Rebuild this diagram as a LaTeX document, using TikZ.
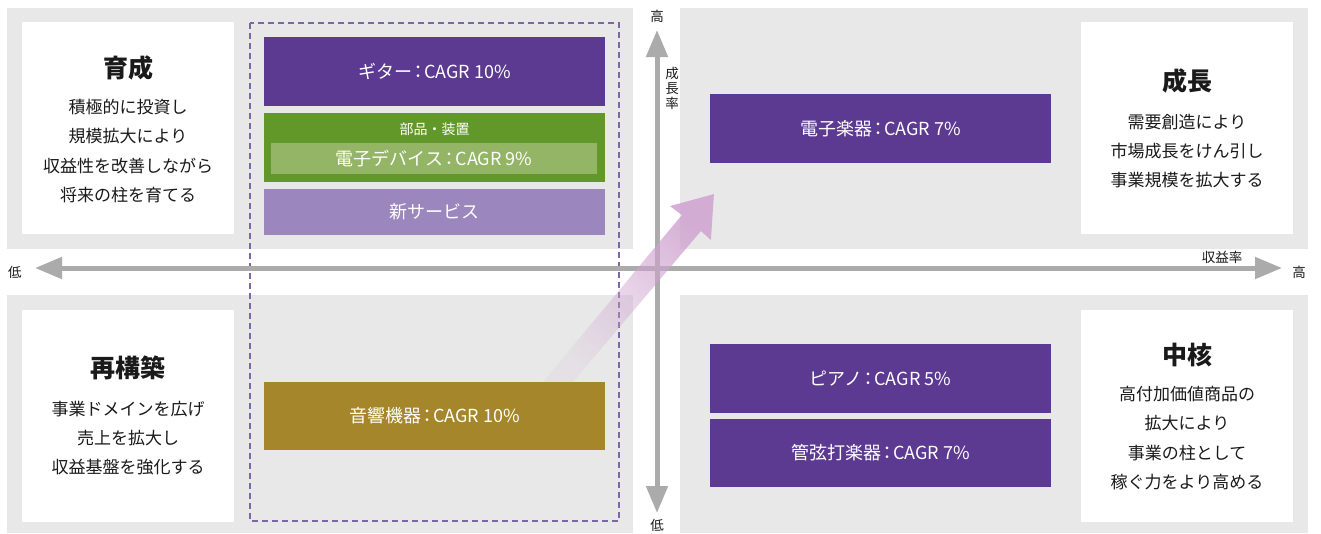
\documentclass[tikz,border=0pt]{standalone}
\usepackage{fontspec}
\setmainfont{Noto Sans CJK JP}
\usetikzlibrary{arrows.meta,fadings}
\definecolor{panelgray}{HTML}{E8E8E8}
\definecolor{purpleA}{HTML}{5C3A91}
\definecolor{greenA}{HTML}{62982A}
\definecolor{greenB}{HTML}{93B565}
\definecolor{purpleL}{HTML}{9B86BD}
\definecolor{goldA}{HTML}{A5862A}
\definecolor{dashpurple}{HTML}{7D66A8}
\definecolor{axisgray}{HTML}{ABABAB}
\definecolor{arrowpink}{HTML}{CFA2CF}
\definecolor{textblack}{HTML}{1A1A1A}
\tikzfading[name=arrowfade, top color=transparent!0, bottom color=transparent!88]
\newcommand{\cln}{\kern-0.16em：\kern-0.16em}
\begin{document}
\begin{tikzpicture}[x=1pt,y=-1pt,
  panel/.style={fill=panelgray,draw=none},
  whitebox/.style={fill=white,draw=none,minimum width=212pt,minimum height=212pt,inner sep=0pt,outer sep=0pt},
  catbox/.style={draw=none,text=white,minimum width=341pt,inner sep=0pt,outer sep=0pt,font=\fontsize{18}{20}\selectfont},
  title/.style={font=\fontsize{25}{28}\selectfont\bfseries,text=textblack},
  desc/.style={font=\fontsize{17}{29.3}\selectfont,text=textblack,align=center,inner sep=0pt},
  axis/.style={draw=axisgray,line width=5pt},
  axlabel/.style={font=\fontsize{13.5}{15}\selectfont,text=textblack,inner sep=0pt}
]
\useasboundingbox (0,0) rectangle (1321,533);
\fill[white] (0,0) rectangle (1321,533);
% quadrant panels
\fill[panel] (7,8) rectangle (633,249);
\fill[panel] (680,8) rectangle (1308,249);
\fill[panel] (7,295) rectangle (633,533);
\fill[panel] (680,295) rectangle (1308,533);
% white description boxes
\node[whitebox] (tlw) at (128,128) {};
\node[whitebox] (trw) at (1187,128) {};
\node[whitebox] (blw) at (128,416) {};
\node[whitebox] (brw) at (1187,416) {};
\node[title] (t1) at (128,68) {育成};
\node[desc] (d1) at (128,151) {積極的に投資し\\規模拡大により\\収益性を改善しながら\\将来の柱を育てる};
\node[title] (t2) at (1187,81) {成長};
\node[desc] (d2) at (1187,151) {需要創造により\\市場成長をけん引し\\事業規模を拡大する};
\node[title] (t3) at (128,368) {再構築};
\node[desc] (d3) at (128,438) {事業ドメインを広げ\\売上を拡大し\\収益基盤を強化する};
\node[title] (t4) at (1187,355) {中核};
\node[desc] (d4) at (1187,438) {高付加価値商品の\\拡大により\\事業の柱として\\稼ぐ力をより高める};
% dashed group
\draw[dashpurple,line width=1.3pt,dash pattern=on 6pt off 4pt] (250,23) rectangle (619,521);
% axes
\coordinate (hl) at (35,268);
\coordinate (hr) at (1282,268);
\coordinate (vt) at (657,30);
\coordinate (vb) at (657,513);
\draw[axis,{Triangle[length=27pt,width=21pt]}-{Triangle[length=27pt,width=21pt]}] (hl) -- (hr);
\draw[axis,{Triangle[length=27pt,width=21pt]}-{Triangle[length=27pt,width=21pt]}] (vt) -- (vb);
\node[axlabel] (lowx) at (15,272) {低};
\node[axlabel] (highx) at (1299,272) {高};
\node[axlabel] (xname) at (1222,257) {収益率};
\node[axlabel] (highy) at (657,16) {高};
\node[axlabel] (lowy) at (657,525) {低};
\node[axlabel,align=center,font=\fontsize{13.5}{15}\selectfont] (yname) at (672,88) {成\\長\\率};
% category boxes
\node[catbox,fill=purpleA,minimum height=69pt] (guitar) at (434.5,71.5) {ギター\cln CAGR 10\%};
\node[catbox,fill=greenA,minimum height=69pt] (parts) at (434.5,147.5) {};
\node[font=\fontsize{14}{15}\selectfont,text=white] (partslbl) at (434.5,129) {部品・装置};
\node[catbox,fill=greenB,minimum width=326pt,minimum height=31pt] (device) at (434,158.5) {電子デバイス\cln CAGR 9\%};
\node[catbox,fill=purpleL,minimum height=46pt] (service) at (434.5,212) {新サービス};
\node[catbox,fill=purpleA,minimum height=69pt] (elec) at (880.5,128.5) {電子楽器\cln CAGR 7\%};
\node[catbox,fill=purpleA,minimum height=69pt] (piano) at (880.5,378.5) {ピアノ\cln CAGR 5\%};
\node[catbox,fill=purpleA,minimum height=68pt] (orch) at (880.5,453) {管弦打楽器\cln CAGR 7\%};
% gradient arrow
\fill[arrowpink,fill opacity=0.85,path fading=arrowfade,fading angle=-40]
  (543,382) -- (682,215) -- (670,206) -- (714,194) -- (711,240) -- (701,231) -- (573,382) -- cycle;
\node[catbox,fill=goldA,minimum height=68pt] (sound) at (434.5,416) {音響機器\cln CAGR 10\%};
\end{tikzpicture}
\end{document}
